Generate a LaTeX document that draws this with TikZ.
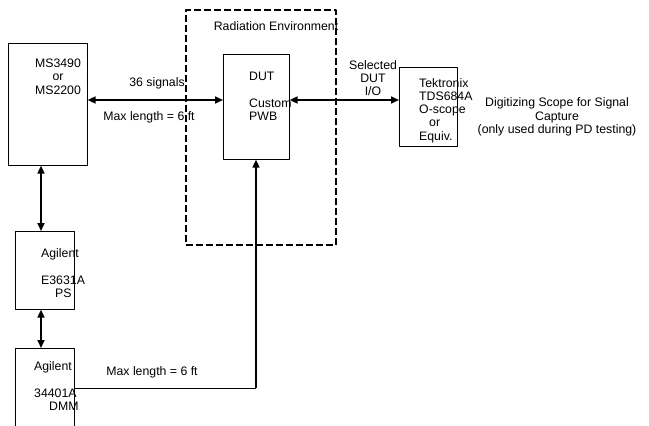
\documentclass[tikz,border=0pt]{standalone}
\usepackage{fontspec}
\setmainfont{Liberation Sans}
\usetikzlibrary{arrows.meta}

\tikzset{
  box/.style={draw, line width=0.6pt, inner sep=0, anchor=north west},
  link/.style={line width=1.6pt, {Triangle[length=8pt,width=7pt]}-{Triangle[length=8pt,width=7pt]}},
  feed/.style={line width=1.6pt, -{Triangle[length=8pt,width=7pt]}},
  lbl/.style={inner sep=0, align=center}
}

\begin{document}
\begin{tikzpicture}[
        x=1pt, y=-1pt,
        line join=round,
        font=\fontsize{12.3}{13.3}\selectfont
        ]

        % Khung
        \useasboundingbox (0,0) rectangle (649,426);

        % Vùng bức xạ
        \node[box, dash pattern=on 7pt off 3pt, line width=1.6pt,
              minimum width=150, minimum height=235] (rad) at (185,9) {};
        \node[lbl] (radtxt) at (276,26) {Radiation Environment};

        % Các khối
        \node[box, minimum width=79, minimum height=122] (ms) at (8,43) {};
        \node[box, minimum width=66, minimum height=105] (dut) at (223,54) {};
        \node[box, minimum width=58, minimum height=79] (tek) at (399,67) {};
        \node[box, minimum width=59, minimum height=78] (ps) at (15,231) {};
        \node[box, minimum width=59, minimum height=95] (dmm) at (15,348) {};

        % Chữ trong khối
        \node[lbl] (mstxt) at (58,76.5) {MS3490\\or\\MS2200};
        \node[lbl, align=left, anchor=west] (duttxt) at (249,96.5) {DUT\\[13.3pt]Custom\\PWB};
        \node[lbl, align=left, anchor=west] (tektxt) at (419,110.5)
              {Tektronix\\TDS684A\\O-scope\\\hspace*{10pt}or\\Equiv.};
        \node[lbl, align=left, anchor=west] (pstxt) at (41,273) {Agilent\\[13.3pt]E3631A\\\hspace*{14pt}PS};
        \node[lbl, align=left, anchor=west] (dmmtxt) at (34,386) {Agilent\\[13.3pt]34401A\\\hspace*{15pt}DMM};

        % Điểm phụ
        \coordinate (bus) at (0,100);
        \coordinate (col) at (41,0);
        \coordinate (bend) at (256,388);

        % Đường nối
        \draw[link] (ms.east |- bus) -- (dut.west |- bus);
        \draw[link] (dut.east |- bus) -- (tek.west |- bus);
        \draw[link] (ms.south -| col) -- (ps.north -| col);
        \draw[link] (ps.south -| col) -- (dmm.north -| col);
        \draw[line width=0.6pt] (bend -| dmm.east) -- (bend);
        \draw[feed] (bend) -- (dut.south -| bend);

        % Nhãn
        \node[lbl] (sig) at (157,83) {36 signals};
        \node[lbl] (len1) at (149,117) {Max length = 6 ft};
        \node[lbl] (sel) at (373,78) {Selected\\DUT\\I/O};
        \node[lbl] (scope) at (557,117) {Digitizing Scope for Signal\\Capture\\(only used during PD testing)};
        \node[lbl] (len2) at (152,372) {Max length = 6 ft};

\end{tikzpicture}
\end{document}
